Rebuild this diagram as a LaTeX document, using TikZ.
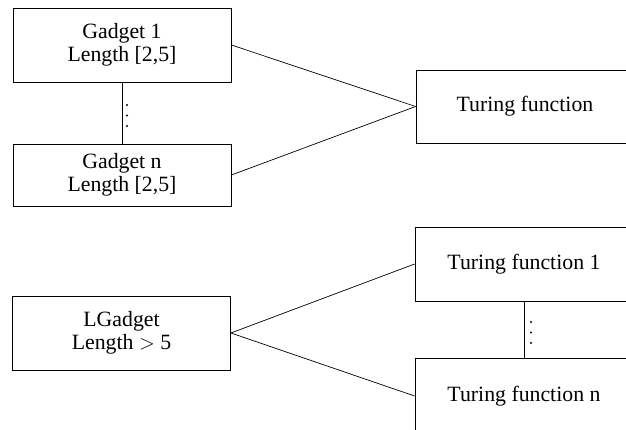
\documentclass[tikz,border=0pt]{standalone}
\usepackage{fontspec}
\setmainfont{Liberation Serif}
\begin{document}
\begin{tikzpicture}[x=1pt,y=-1pt,
  box/.style={draw,line width=0.8pt,minimum width=218pt,align=center,
    inner sep=0pt,font=\fontsize{21.8}{23}\selectfont},
  link/.style={line width=0.7pt},
  dot/.style={fill,circle,inner sep=0pt,minimum size=2.4pt}]
\useasboundingbox (0,0) rectangle (626,430);
\clip (0,0) rectangle (626,430);

% upper group: short gadgets feeding one Turing function
\node[box,minimum height=74pt] (g1) at (122,45) {Gadget 1\\Length [2,5]};
\node[box,minimum height=62pt] (gn) at (122,175) {Gadget n\\Length [2,5]};
\node[box,minimum height=73pt] (tf) at (525,106.5) {Turing function};
\draw[link] (g1.south) -- (gn.north);
\draw[link] (g1.east) -- (tf.west);
\draw[link] (gn.east) -- (tf.west);
\node[dot] (d1) at (127,105) {};
\node[dot] (d2) at (127,115.5) {};
\node[dot] (d3) at (127,126) {};

% lower group: a long gadget feeding several Turing functions
\node[box,minimum height=74pt] (lg) at (121.5,333) {LGadget\\Length $>$ 5};
\node[box,minimum height=74pt] (t1) at (524,264) {Turing function 1};
\node[box,minimum height=76pt] (tn) at (524,396) {Turing function n};
\draw[link] (t1.south) -- (tn.north);
\draw[link] (lg.east) -- (t1.west);
\draw[link] (lg.east) -- (tn.west);
\node[dot] (e1) at (531,322) {};
\node[dot] (e2) at (531,332.5) {};
\node[dot] (e3) at (531,343) {};
\end{tikzpicture}
\end{document}
